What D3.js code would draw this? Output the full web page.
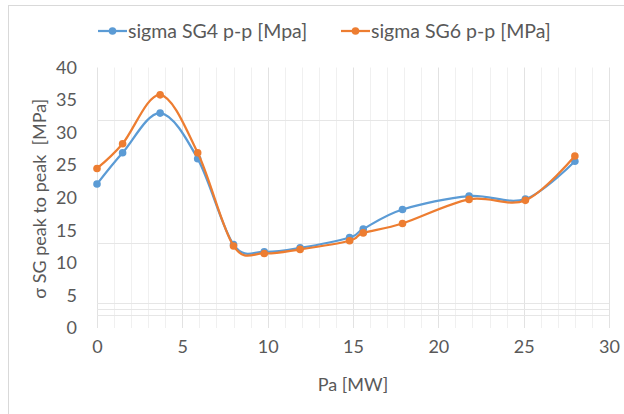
<!DOCTYPE html>
<html>
<head>
<meta charset="utf-8">
<script src="https://cdn.jsdelivr.net/npm/d3@7"></script>
<style>
  html, body { margin: 0; padding: 0; background: #fff; }
  svg { display: block; font-family: Lato, "Open Sans", sans-serif; }
</style>
</head>
<body>
<svg id="chart" width="624" height="414"></svg>
<script>
// Active power Pa [MW] at each measurement
const pa = [0, 1.5, 3.7, 5.9, 8.0, 9.8, 11.9, 14.8, 15.6, 17.9, 21.8, 25.1, 28.0];
// Peak-to-peak stress of strain gauge SG4 [MPa]
const sg4 = [22.1, 26.9, 33.0, 26.0, 12.8, 11.7, 12.3, 13.9, 15.2, 18.2, 20.25, 19.8, 25.6];
// Peak-to-peak stress of strain gauge SG6 [MPa]
const sg6 = [24.5, 28.3, 35.8, 26.9, 12.6, 11.45, 12.07, 13.4, 14.6, 16.05, 19.75, 19.6, 26.4];

const seriesNames = ["sigma SG4 p-p [Mpa]", "sigma SG6 p-p [MPa]"];
const seriesColors = ["#5B9BD5", "#ED7D31"];

const xTicks = [0, 5, 10, 15, 20, 25, 30];
const xMinorTicks = d3.range(0, 31, 1);
const yTicks = [0, 5, 10, 15, 20, 25, 30, 35, 40];
const yGridValues = [2, 2.9, 3.85, 13, 32];

const xTitle = "Pa [MW]";
const yTitle = "σ SG peak to peak  [MPa]";

const textColor = "#595959";
const fontFamily = "Lato, 'Open Sans', sans-serif";

const svg = d3.select("#chart");

// outer chart frame
svg.append("rect")
  .attr("x", 8.5).attr("y", 5.5)
  .attr("width", 640).attr("height", 430)
  .attr("fill", "none").attr("stroke", "#d9d9d9");

const x = d3.scaleLinear().domain([0, 30]).range([97, 609]);
const y = d3.scaleLinear().domain([0, 40]).range([328, 67.5]);

const grid = svg.append("g");
// minor vertical gridlines
grid.selectAll("line.minor").data(xMinorTicks.filter(v => v % 5 !== 0)).join("line")
  .attr("class", "minor")
  .attr("x1", d => Math.round(x(d)) + 0.5).attr("x2", d => Math.round(x(d)) + 0.5)
  .attr("y1", y(40)).attr("y2", y(0))
  .attr("stroke", "#f0f0f0").attr("stroke-width", 1);
// major vertical gridlines
grid.selectAll("line.major").data(xTicks).join("line")
  .attr("class", "major")
  .attr("x1", d => Math.round(x(d)) + 0.5).attr("x2", d => Math.round(x(d)) + 0.5)
  .attr("y1", y(40)).attr("y2", y(0))
  .attr("stroke", "#e2e2e2").attr("stroke-width", 1);
// horizontal gridlines
grid.selectAll("line.h").data(yGridValues).join("line")
  .attr("class", "h")
  .attr("x1", x(0)).attr("x2", x(30))
  .attr("y1", d => Math.round(y(d)) + 0.5).attr("y2", d => Math.round(y(d)) + 0.5)
  .attr("stroke", "#e6e6e6").attr("stroke-width", 1);

// axes (labels only)
const xAxis = svg.append("g")
  .attr("transform", `translate(0,${y(0) + 12})`)
  .call(d3.axisBottom(x).tickValues(xTicks).tickSize(0).tickPadding(0));
xAxis.select(".domain").remove();
xAxis.selectAll("text").attr("fill", textColor).attr("font-size", 18)
  .attr("font-family", fontFamily);

const yAxis = svg.append("g")
  .attr("transform", `translate(${x(0) - 20},0)`)
  .call(d3.axisLeft(y).tickValues(yTicks).tickSize(0).tickPadding(0));
yAxis.select(".domain").remove();
yAxis.selectAll("text").attr("fill", textColor).attr("font-size", 18)
  .attr("font-family", fontFamily);

// axis titles
svg.append("text")
  .attr("x", 353).attr("y", 391)
  .attr("text-anchor", "middle")
  .attr("fill", textColor).attr("font-size", 18)
  .text(xTitle);
svg.append("text")
  .attr("transform", `translate(46,${(y(0) + y(40)) / 2 + 1}) rotate(-90)`)
  .attr("text-anchor", "middle")
  .attr("fill", textColor).attr("font-size", 18)
  .style("white-space", "pre")
  .text(yTitle);

// smoothed series
const series = [sg4, sg6].map((vals, i) => ({
  name: seriesNames[i],
  color: seriesColors[i],
  points: pa.map((p, j) => [p, vals[j]])
}));

const line = d3.line()
  .x(d => x(d[0])).y(d => y(d[1]))
  .curve(d3.curveCardinal.tension(0));

const plot = svg.append("g");
series.forEach(s => {
  const g = plot.append("g");
  g.append("path")
    .attr("d", line(s.points))
    .attr("fill", "none")
    .attr("stroke", s.color)
    .attr("stroke-width", 2.25)
    .attr("stroke-linejoin", "round");
  g.selectAll("circle").data(s.points).join("circle")
    .attr("cx", d => x(d[0])).attr("cy", d => y(d[1]))
    .attr("r", 3.8)
    .attr("fill", s.color);
});

// legend
const legendItems = [
  { x: 98, name: seriesNames[0], color: seriesColors[0] },
  { x: 341, name: seriesNames[1], color: seriesColors[1] }
];
const legendY = 31;
const lg = svg.append("g");
legendItems.forEach(it => {
  lg.append("line")
    .attr("x1", it.x).attr("x2", it.x + 29)
    .attr("y1", legendY).attr("y2", legendY)
    .attr("stroke", it.color).attr("stroke-width", 2.25);
  lg.append("circle")
    .attr("cx", it.x + 14.5).attr("cy", legendY).attr("r", 3.8)
    .attr("fill", it.color);
  lg.append("text")
    .attr("x", it.x + 30).attr("y", legendY)
    .attr("dy", "0.35em")
    .attr("fill", textColor).attr("font-size", 19.5)
    .text(it.name);
});
</script>
</body>
</html>
